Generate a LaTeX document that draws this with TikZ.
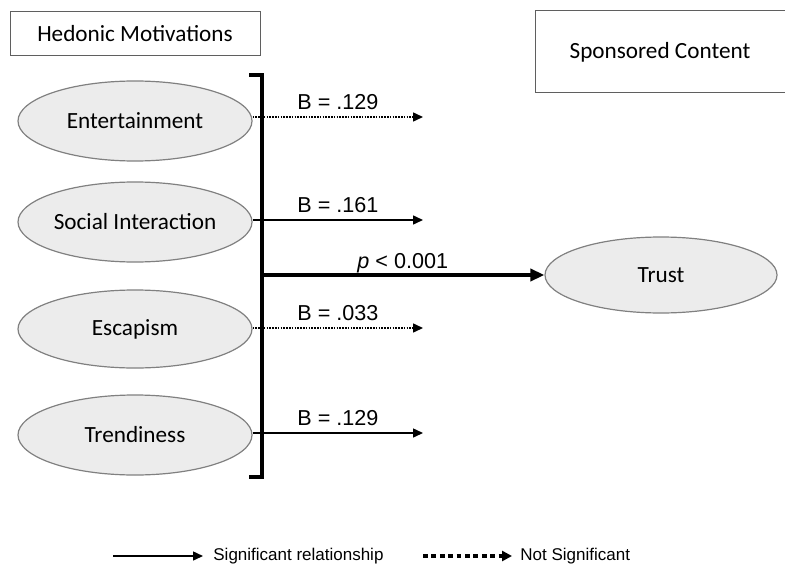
\documentclass[tikz,border=0pt]{standalone}
\usepackage{fontspec}
\setmainfont{Carlito}
\newfontfamily\arialfont{Liberation Sans}
\usetikzlibrary{shapes.geometric,arrows.meta}
\definecolor{cEdge}{RGB}{128,128,128}
\definecolor{cFill}{RGB}{236,236,236}
\definecolor{cFrame}{RGB}{95,95,95}

\begin{document}
\begin{tikzpicture}[
  x=0.5pt, y=-0.5pt,
  font=\fontsize{11.6}{14}\selectfont,
  title/.style 2 args={draw=cFrame, line width=0.5pt, inner sep=0pt,
    minimum width=#1, minimum height=#2},
  construct/.style 2 args={ellipse, draw=cEdge, fill=cFill, line width=0.6pt,
    inner sep=0pt, minimum width=#1, minimum height=#2},
  coef/.style={font=\arialfont\fontsize{10.8}{13}\selectfont, anchor=base west,
    inner sep=0pt},
  key/.style={font=\arialfont\fontsize{8.5}{10}\selectfont, anchor=west,
    inner sep=0pt},
  sig/.style={-{Triangle[length=5pt, width=4.5pt]}, line width=0.75pt},
  nsig/.style={sig, dash pattern=on 0.8pt off 0.6pt},
]
\clip (0,0) rectangle (785,572);

% Headings
\node[title={125pt}{22pt}] (hedonic) at (135,34) {Hedonic Motivations};
\node[title={125pt}{41pt}] (sponsored) at (660,52) {Sponsored Content};

% Motivation constructs
\node[construct={117pt}{40pt}] (ent) at (135,121) {Entertainment};
\node[construct={117pt}{40pt}] (soc) at (135,222) {Social Interaction};
\node[construct={117pt}{39pt}] (esc) at (135,329) {Escapism};
\node[construct={117pt}{40pt}] (trend) at (135,435) {Trendiness};
\node[construct={116pt}{38pt}] (trust) at (661,275) {Trust};

% Bracket
\coordinate (brtop) at (249,75);
\coordinate (brbot) at (249,477);
\coordinate (brmid) at (262,275);
\draw[line width=1.8pt, line join=miter] (brtop) -| (262,477) -- (brbot);

% Coefficient arrows
\coordinate (entend) at (423,117);
\coordinate (socend) at (423,220);
\coordinate (escend) at (423,328);
\coordinate (trendend) at (423,433);
\draw[nsig] (ent.east |- entend) -- (entend);
\draw[sig] (soc.east |- socend) -- (socend);
\draw[nsig] (esc.east |- escend) -- (escend);
\draw[sig] (trend.east |- trendend) -- (trendend);
\draw[-{Triangle[length=7pt, width=6pt]}, line width=1.7pt] (brmid) -- (trust.west);

\node[coef] (bent) at (297,110) {B = .129};
\node[coef] (bsoc) at (297,213) {B = .161};
\node[coef] (besc) at (297,320) {B = .033};
\node[coef] (btrend) at (297,425) {B = .129};
\node[coef] (ptrust) at (357,268) {\textit{p} < 0.001};

% Legend
\coordinate (ksigA) at (113,556);
\coordinate (ksigB) at (203,556);
\coordinate (knsA) at (423,556);
\coordinate (knsB) at (512,556);
\draw[sig] (ksigA) -- (ksigB);
\draw[-{Triangle[length=5pt, width=5pt]}, line width=1.6pt,
      dash pattern=on 2.4pt off 1.8pt] (knsA) -- (knsB);
\node[key] (ksig) at (213,556) {Significant relationship};
\node[key] (kns) at (520,556) {Not Significant};

\end{tikzpicture}
\end{document}
